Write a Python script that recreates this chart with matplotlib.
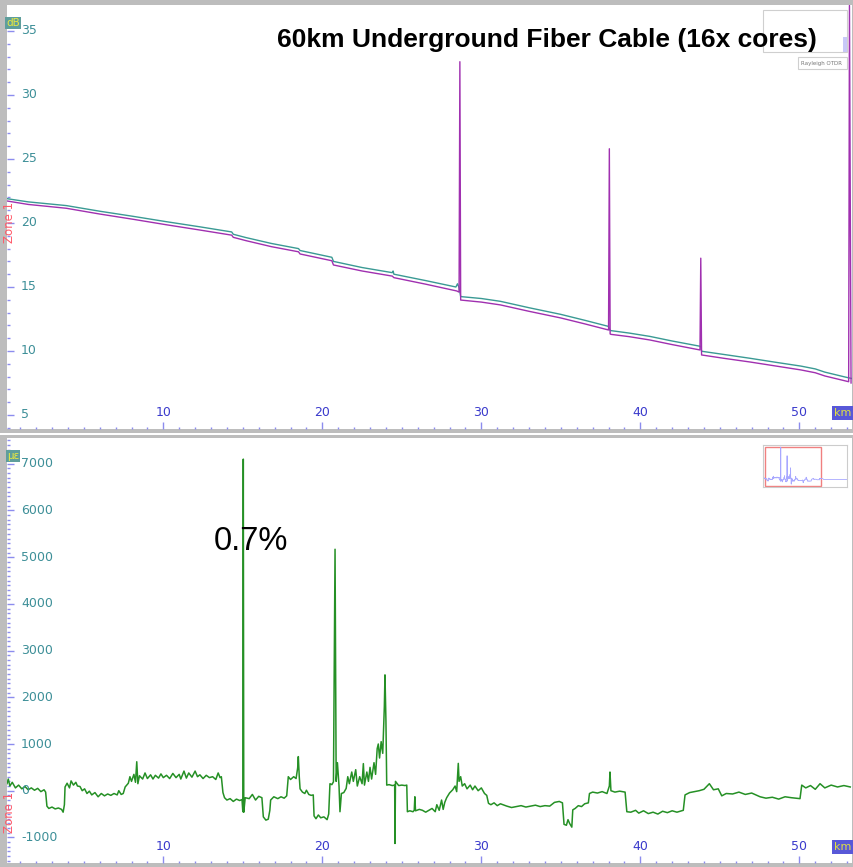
import matplotlib
matplotlib.use("Agg")
import matplotlib.pyplot as plt
from matplotlib.patches import Rectangle

# ---------------- data ----------------
title_text = "60km Underground Fiber Cable (16x cores)"
annotation_text = "0.7%"

top_y_ticks = [5, 10, 15, 20, 25, 30, 35]
bot_y_ticks = [-1000, 0, 1000, 2000, 3000, 4000, 5000, 6000, 7000]
x_ticks = [10, 20, 30, 40, 50]

# Rayleigh OTDR trace (purple) – km / dB
purple_km = [0.17, 1.5, 3.9, 6.0, 8.1, 10.2, 12.3, 14.3, 14.4, 15.2, 16.8, 18.5, 18.6,
             20.6, 20.7, 22.5, 24.4, 24.5, 26.5, 28.45, 28.6, 28.65, 28.7, 30.0,
             31.2, 33.0, 35.0, 36.5, 38.0, 38.05, 38.1, 38.15, 39.3, 40.6, 42.0,
             43.75, 43.8, 43.85, 45.3, 46.9, 48.5, 50.1, 51.0, 51.6, 52.9, 53.1,
             53.15, 53.25]
purple_db = [21.72, 21.45, 21.15, 20.70, 20.29, 19.86, 19.45, 19.05, 18.88, 18.62,
             18.15, 17.75, 17.58, 17.05, 16.72, 16.25, 15.85, 15.73, 15.22, 14.69,
             14.60, 32.60, 13.98, 13.82, 13.60, 13.10, 12.58, 12.12, 11.64, 25.80,
             11.33, 11.30, 11.12, 10.86, 10.50, 10.08, 17.25, 9.69, 9.42, 9.14,
             8.83, 8.52, 8.30, 8.05, 7.66, 7.60, 37.0, 7.50]

# Rayleigh OTDR trace (teal) – km / dB
teal_km = [0.17, 1.5, 3.9, 6.0, 8.1, 10.2, 12.3, 14.3, 14.4, 15.2, 16.8, 18.5, 18.6,
           20.6, 20.7, 22.5, 24.4, 24.45, 24.5, 26.5, 28.4, 28.5, 28.6, 28.7, 30.0,
           31.2, 33.0, 35.0, 36.5, 38.0, 38.1, 39.3, 40.6, 42.0, 43.8, 43.85, 45.3,
           46.9, 48.5, 50.1, 51.0, 51.6, 52.9, 53.3]
teal_db = [21.90, 21.65, 21.36, 20.92, 20.52, 20.10, 19.70, 19.30, 19.12, 18.86,
           18.40, 18.00, 17.85, 17.32, 17.00, 16.52, 16.12, 16.25, 16.00, 15.50,
           15.00, 15.25, 14.95, 14.25, 14.10, 13.88, 13.38, 12.86, 12.40, 11.92,
           11.60, 11.40, 11.14, 10.78, 10.36, 9.98, 9.72, 9.43, 9.12, 8.82, 8.60,
           8.35, 7.96, 7.85]

# Strain trace (green) – km / micro-strain
strain_km = [0.17, 0.25, 0.35, 0.5, 0.7, 0.9, 1.1, 1.3, 1.5, 1.7, 1.9, 2.1, 2.3, 2.5,
             2.6, 2.68, 2.8, 3.0, 3.2, 3.4, 3.6, 3.7, 3.78, 3.82, 3.95, 4.1, 4.2,
             4.35, 4.5, 4.6, 4.76, 4.9, 5.05, 5.2, 5.35, 5.5, 5.7, 5.9, 6.1, 6.3,
             6.5, 6.7, 6.9, 7.1, 7.2, 7.35, 7.48, 7.6, 7.8, 7.9, 8.0, 8.15, 8.25,
             8.33, 8.4, 8.5, 8.7, 8.85, 9.0, 9.2, 9.35, 9.5, 9.7, 9.85, 10.0, 10.2,
             10.4, 10.6, 10.8, 11.0, 11.1, 11.3, 11.45, 11.6, 11.8, 12.0, 12.15,
             12.3, 12.5, 12.7, 12.9, 13.1, 13.3, 13.45, 13.57, 13.65, 13.75, 13.85,
             14.0, 14.2, 14.4, 14.6, 14.8, 14.95, 15.0, 15.03, 15.06, 15.15, 15.4,
             15.6, 15.8, 16.0, 16.2, 16.29, 16.45, 16.6, 16.7, 16.75, 16.95, 17.2,
             17.4, 17.6, 17.76, 17.86, 18.0, 18.2, 18.35, 18.45, 18.49, 18.55, 18.6,
             18.75, 18.9, 19.0, 19.15, 19.3, 19.43, 19.48, 19.6, 19.75, 19.9, 20.1,
             20.3, 20.4, 20.48, 20.6, 20.7, 20.8, 20.87, 20.95, 21.05, 21.11, 21.2,
             21.35, 21.5, 21.6, 21.7, 21.85, 21.95, 22.1, 22.2, 22.35, 22.5, 22.58,
             22.65, 22.8, 22.9, 23.0, 23.1, 23.25, 23.35, 23.45, 23.52, 23.6, 23.7,
             23.8, 23.9, 23.94, 24.0, 24.05, 24.2, 24.4, 24.55, 24.57, 24.6, 24.8,
             25.0, 25.2, 25.31, 25.35, 25.5, 25.7, 25.78, 25.82, 25.86, 26.1, 26.3,
             26.5, 26.7, 26.9, 27.1, 27.2, 27.35, 27.5, 27.6, 27.7, 27.82, 28.0,
             28.2, 28.35, 28.45, 28.55, 28.6, 28.7, 28.8, 28.95, 29.1, 29.3, 29.45,
             29.6, 29.8, 30.0, 30.2, 30.34, 30.45, 30.6, 30.8, 31.0, 31.2, 31.6,
             31.9, 32.2, 32.5, 32.8, 33.1, 33.4, 33.7, 34.0, 34.3, 34.6, 34.9, 35.1,
             35.2, 35.35, 35.45, 35.55, 35.69, 35.75, 35.9, 36.1, 36.3, 36.5, 36.73,
             36.8, 37.0, 37.3, 37.6, 37.9, 38.05, 38.09, 38.15, 38.4, 38.7, 39.04,
             39.15, 39.4, 39.7, 39.9, 40.2, 40.5, 40.8, 41.1, 41.4, 41.7, 42.0, 42.3,
             42.7, 42.81, 43.1, 43.4, 43.7, 44.0, 44.34, 44.6, 44.9, 45.12, 45.4,
             45.8, 46.2, 46.6, 47.0, 47.53, 47.9, 48.3, 48.7, 49.1, 49.5, 50.04,
             50.15, 50.4, 50.7, 51.0, 51.3, 51.6, 52.0, 52.4, 52.8, 53.2]
strain_ue = [150, 250, 100, 180, 60, 120, 40, 90, 20, 60, 10, 50, -20, 20,
             -30, -330, -380, -350, -390, -370, -400, -460, -300, 80, 160, 60, 210,
             120, 180, 100, 90, 0, 40, -60, -10, -90, -40, -130, -60, -110,
             -70, -100, -60, -90, 0, -80, -60, 80, 160, 300, 200, 350, 180,
             620, 150, 320, 250, 380, 260, 340, 250, 330, 270, 360, 280, 330,
             260, 370, 280, 350, 250, 420, 270, 380, 290, 420, 300,
             340, 260, 330, 280, 300, 240, 380, 280, 300, -40, -150,
             -200, -170, -230, -180, -210, -190, -450, 7100, -460, -150, -170,
             -80, -200, -120, -150, -560, -630, -610, -420, -200, -130, -170,
             -130, -160, -110, 300, 240, 300, 260, 490, 730, 300, 40,
             -30, -60, 10, -80, -100, -90, -540, -600, -520, -580, -560,
             -620, -500, 150, 130, 190, 5170, 200, 600, 100, -450, -60,
             -40, 50, 300, 150, 400, 200, 450, 100, 300, 150, 580,
             120, 400, 200, 500, 250, 600, 350, 900, 1000, 700, 1050,
             800, 1800, 2480, 1500, 120, 130, 110, 120, -1130, 200, 110,
             120, 110, 120, -450, -430, -450, -420, -130, -430, -400, -420,
             -460, -420, -380, -450, -300, -420, -200, -400, -250, -150, -50,
             20, 100, -20, 585, 200, 300, 100, 150, 40, 120, 20,
             100, 0, 60, -60, -100, -270, -300, -260, -320, -280, -330,
             -360, -340, -320, -350, -330, -310, -340, -320, -330, -250, -230, -260,
             -720, -740, -620, -700, -780, -410, -380, -320, -340, -280, -260,
             -60, -30, -50, -20, -60, 100, 400, 0, -30, -10, -30,
             -450, -460, -420, -480, -430, -490, -460, -500, -440, -470, -430, -460,
             -420, -90, -40, -20, 0, 30, 150, 20, 40, -110, -60,
             -70, -30, -80, -50, -130, -160, -140, -180, -130, -150, -170,
             120, 60, 110, 30, 150, 60, 120, 80, 110, 80]

# overview (full fibre) tail shown in the little navigator
overview_tail_km = [53.2, 75.0]
overview_tail_ue = [80, 80]

# ---------------- style ----------------
TEAL = "#3a9a94"
PURPLE = "#a030b0"
GREEN = "#259025"
TICKLBL = "#3d8f98"
XLBL = "#3a3acc"
TICKCOL = "#8c8cee"

W, H = 854, 867
fig = plt.figure(figsize=(W / 100, H / 100), dpi=100)
fig.patch.set_facecolor("#bdbdbd")


def rect(x0, y0, x1, y1):
    """pixel box (top-left origin) -> figure fraction [l, b, w, h]"""
    return [x0 / W, 1 - y1 / H, (x1 - x0) / W, (y1 - y0) / H]


# white strip between the two panels
fig.patches.append(Rectangle((0, 1 - 435 / H), 1, 2 / H, transform=fig.transFigure,
                             facecolor="white", edgecolor="none", zorder=0))

ax1 = fig.add_axes(rect(7, 5, 852, 429))
ax2 = fig.add_axes(rect(7, 438, 852, 863))

for ax in (ax1, ax2):
    for s in ax.spines.values():
        s.set_visible(False)
    ax.set_xlim(0.17, 53.31)
    ax.set_xticks(x_ticks)
    ax.set_xticks(range(1, 54), minor=True)
    ax.tick_params(axis="both", which="both", direction="in", colors=TICKCOL,
                   labelbottom=False, labelleft=False, width=1)
    ax.tick_params(axis="x", which="major", length=5)
    ax.tick_params(axis="x", which="minor", length=1.8)
    ax.tick_params(axis="y", which="major", length=5)
    ax.tick_params(axis="y", which="minor", length=2.2)
    for t in x_ticks:
        ax.text(t, 0.038, str(t), transform=ax.get_xaxis_transform(), ha="center",
                va="center", color=XLBL, fontsize=9)
    ax.text(0.9895, 0.038, "km", transform=ax.transAxes, ha="center", va="center",
            color="#e0e040", fontsize=8,
            bbox=dict(boxstyle="square,pad=0.18", facecolor="#5858d8", edgecolor="none"))

# ---- top panel ----
ax1.set_ylim(3.906, 37.03)
ax1.set_yticks(top_y_ticks)
ax1.set_yticks(range(4, 37), minor=True)
ax1.plot(teal_km, teal_db, color=TEAL, lw=1.0, zorder=3)
ax1.plot(purple_km, purple_db, color=PURPLE, lw=1.0, zorder=4)
for t in top_y_ticks:
    ax1.text(0.0166, t, str(t), transform=ax1.get_yaxis_transform(), ha="left",
             va="center", color=TICKLBL, fontsize=9)
# unit box (top-left)
fig.text(13 / W, 1 - 23 / H, "dB", ha="center", va="center", color="#e8e840",
         fontsize=7.5, zorder=9,
         bbox=dict(boxstyle="square,pad=0.12", facecolor="#5e9e9c", edgecolor="none"))
ax1.text(0.003, 0.486, "Zone 1", transform=ax1.transAxes, rotation=90, ha="center",
         va="center", color="#ff5a6a", fontsize=8.5)

# legend box remains (top right)
fig.patches.append(Rectangle((763 / W, 1 - 52 / H), 84 / W, 42 / H,
                             transform=fig.transFigure, facecolor="white",
                             edgecolor="#cfcfcf", lw=0.8, zorder=5))
fig.patches.append(Rectangle((843 / W, 1 - 52 / H), 4 / W, 15 / H,
                             transform=fig.transFigure, facecolor="#c8c8f8",
                             edgecolor="none", zorder=6))
fig.patches.append(Rectangle((798 / W, 1 - 69 / H), 49 / W, 12 / H,
                             transform=fig.transFigure, facecolor="white",
                             edgecolor="#cfcfcf", lw=0.8, zorder=5))
fig.text(822 / W, 1 - 63 / H, "Rayleigh OTDR", ha="center", va="center",
         fontsize=4, color="#777777", zorder=7)

# title
fig.text(546.5 / W, 1 - 40 / H, title_text, ha="center", va="center", fontsize=19,
         fontweight="bold", family="Liberation Sans", color="black", zorder=8)

# ---- bottom panel ----
ax2.set_ylim(-1548, 7552)
ax2.set_yticks(bot_y_ticks)
ax2.set_yticks(range(-1500, 7600, 100), minor=True)
ax2.plot(strain_km, strain_ue, color=GREEN, lw=1.1, zorder=3)
for t in bot_y_ticks:
    ax2.text(0.0166, t, str(t), transform=ax2.get_yaxis_transform(), ha="left",
             va="center", color=TICKLBL, fontsize=9)
fig.text(13 / W, 1 - 456 / H, "\u00b5\u03b5", ha="center", va="center",
         color="#e8e840", fontsize=7.5, zorder=9,
         bbox=dict(boxstyle="square,pad=0.12", facecolor="#5e9e9c", edgecolor="none"))
ax2.text(0.003, 0.118, "Zone 1", transform=ax2.transAxes, rotation=90, ha="center",
         va="center", color="#ff5a6a", fontsize=8.5)
fig.text(250.5 / W, 1 - 542 / H, annotation_text, ha="center", va="center",
         fontsize=23.5, family="Liberation Sans", color="black")

# navigator inset
axn = fig.add_axes(rect(763, 445, 847, 487))
axn.plot(strain_km, strain_ue, color="#a8a8ff", lw=0.6)
axn.plot(overview_tail_km, overview_tail_ue, color="#a8a8ff", lw=0.6)
axn.set_xlim(-1, 75)
axn.set_ylim(-1775, 7565)
axn.set_xticks([])
axn.set_yticks([])
for s in axn.spines.values():
    s.set_color("#cccccc")
axn.add_patch(Rectangle((0.02, 0.03), 0.67, 0.93, transform=axn.transAxes,
                        facecolor="none", edgecolor="#f08080", lw=1))

fig.savefig("out.png", dpi=100, facecolor=fig.get_facecolor())
